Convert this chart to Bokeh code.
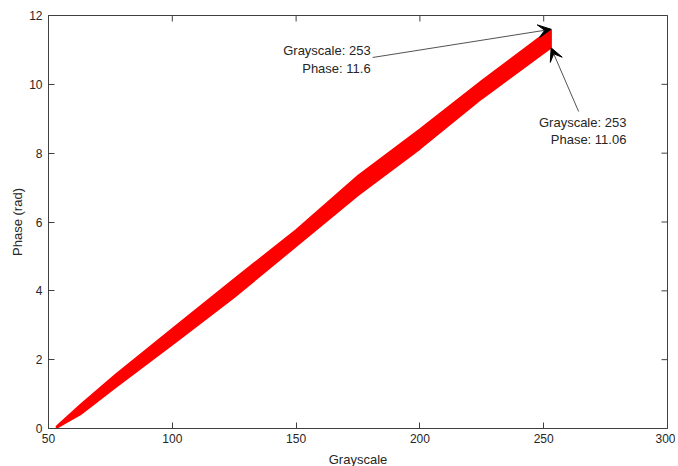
import math
from bokeh.plotting import figure
from bokeh.models import Arrow, VeeHead, FixedTicker, Range1d, Label
from bokeh.embed import file_html
from bokeh.resources import INLINE

# Data (envelope of the red band of curves)
grayscale = [53, 63, 77, 101, 125, 150, 175, 200, 225, 248, 253]
phase_upper = [0.05, 0.70, 1.57, 2.96, 4.35, 5.77, 7.35, 8.70, 10.11, 11.35, 11.60]
phase_lower = [0.00, 0.41, 1.19, 2.49, 3.81, 5.29, 6.77, 8.12, 9.58, 10.80, 11.06]

x_ticks = [50, 100, 150, 200, 250, 300]
y_ticks = [0, 2, 4, 6, 8, 10, 12]

# annotated data tips
ann_gray = [253, 253]
ann_phase = [11.6, 11.06]

FONT = "Liberation Sans"
TXT = "#262626"
AX = "#404040"

p = figure(frame_width=619, frame_height=413, x_range=Range1d(50, 300), y_range=Range1d(0, 12),
           output_backend="svg", toolbar_location=None,
           min_border_left=48, min_border_right=8, min_border_top=15, min_border_bottom=34)
p.grid.visible = False
p.outline_line_color = AX
p.outline_line_width = 1

p.xaxis.ticker = FixedTicker(ticks=x_ticks)
p.xaxis.axis_label = "Grayscale"
p.yaxis.ticker = FixedTicker(ticks=y_ticks)
p.yaxis.axis_label = "Phase (rad)"

for ax in list(p.xaxis) + list(p.yaxis):
    ax.major_tick_in = 6
    ax.major_tick_out = 0
    ax.minor_tick_line_color = None
    ax.axis_line_color = AX
    ax.major_tick_line_color = AX
    ax.major_label_text_font = FONT
    ax.major_label_text_font_size = "12px"
    ax.major_label_text_color = TXT
    ax.axis_label_text_font = FONT
    ax.axis_label_text_font_size = "13px"
    ax.axis_label_text_font_style = "normal"
    ax.axis_label_text_color = TXT
p.xaxis.major_label_standoff = 5
p.xaxis.axis_label_standoff = 6
p.yaxis.major_label_standoff = 6
p.yaxis.axis_label_standoff = 1

# box ticks on top and right edges (half of each dash is clipped by the frame)
p.scatter(x=x_ticks, y=[12] * len(x_ticks), marker="dash", size=12, angle=math.pi / 2,
          line_color=AX, line_width=1)
p.scatter(x=[300] * len(y_ticks), y=y_ticks, marker="dash", size=12,
          line_color=AX, line_width=1)

# red band
p.varea(x=grayscale, y1=phase_lower, y2=phase_upper, fill_color="#ff0000", fill_alpha=1)
p.line(grayscale, phase_upper, line_color="#ff0000", line_width=1.5)
p.line(grayscale, phase_lower, line_color="#ff0000", line_width=1.5)
p.line([grayscale[-1], grayscale[-1]], [phase_lower[-1], phase_upper[-1]],
       line_color="#ff0000", line_width=1.5)

# annotations
tails = [(180.9, 10.78), (264.1, 9.21)]
for (tx, ty), gx, gy in zip(tails, ann_gray, ann_phase):
    p.add_layout(Arrow(end=VeeHead(size=13, fill_color="black", line_color="black", line_width=1),
                       x_start=tx, y_start=ty, x_end=gx, y_end=gy,
                       line_color="#262626", line_width=0.8))

labels = [
    (180.1, 10.97, "Grayscale: %d" % ann_gray[0]),
    (180.1, 10.46, "Phase: %g" % ann_phase[0]),
    (283.4, 8.89, "Grayscale: %d" % ann_gray[1]),
    (283.4, 8.40, "Phase: %g" % ann_phase[1]),
]
for lx, ly, t in labels:
    p.add_layout(Label(x=lx, y=ly, text=t, text_align="right", text_baseline="middle",
                       text_font=FONT, text_font_size="13px", text_color=TXT))

open("out.html", "w").write(file_html(p, INLINE))
